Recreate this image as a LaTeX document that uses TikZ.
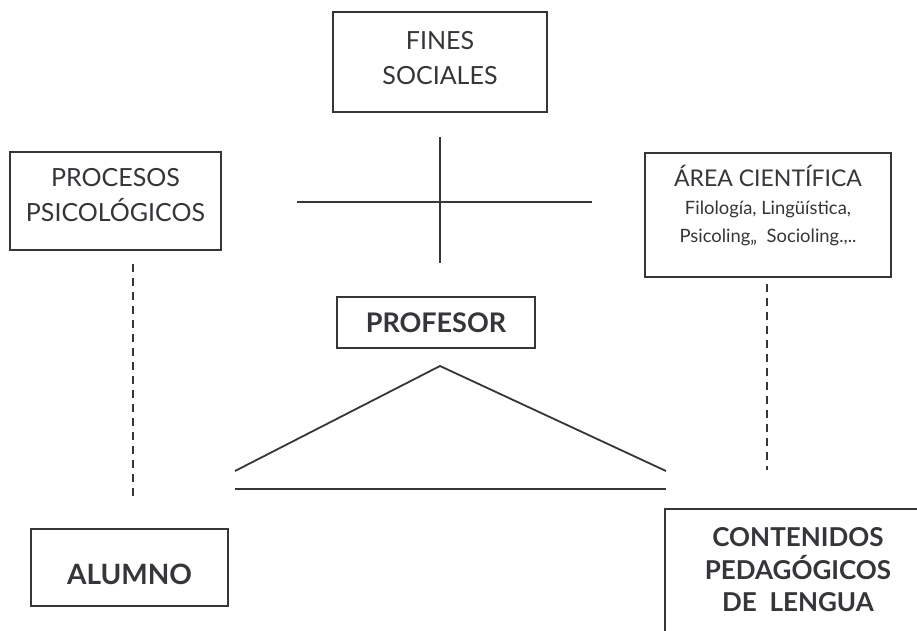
\documentclass[tikz,border=0pt]{standalone}
\usepackage{fontspec}
\setmainfont{Lato}
\usetikzlibrary{positioning}
\definecolor{ink}{HTML}{35353A}

\begin{document}
\begin{tikzpicture}[x=0.5pt, y=-0.5pt, color=ink, line width=0.9pt,
    box/.style = {draw, line width=1pt, inner sep=0pt},
    txt/.style = {align=center, inner sep=0pt},
    dots/.style = {line width=1.3pt, dash pattern=on 4pt off 3pt}]
            \useasboundingbox (0,0) rectangle (917,631);
            \clip (0,0) rectangle (917,631);

            % boxes
            \node [box, minimum width=107pt, minimum height=50pt] (fines) at (440,62) {};
            \node [box, minimum width=105.5pt, minimum height=49pt] (procesos) at (115.5,201) {};
            \node [box, minimum width=123pt, minimum height=62pt] (area) at (768,215) {};
            \node [box, minimum width=99pt, minimum height=25.5pt] (profesor) at (436,322.5) {};
            \node [box, minimum width=98.5pt, minimum height=38.5pt] (alumno) at (129.5,567.5) {};
            \node [box, minimum width=150pt, minimum height=80pt] (contenidos) at (815,589) {};

            % texts
            \node [txt, font=\fontsize{12.5}{17.5}\selectfont]
              (fines-t) at ([yshift=1.75pt]fines.center) {FINES\\SOCIALES};
            \node [txt, font=\fontsize{12.5}{17.5}\selectfont]
              (procesos-t) at ([yshift=3pt]procesos.center) {PROCESOS\\PSICOLÓGICOS};
            \node [txt, font=\fontsize{9.2}{14}\selectfont]
              (area-t) at ([yshift=4.5pt]area.center)
              {{\fontsize{11.5}{14}\selectfont ÁREA CIENTÍFICA}\\Filología, Lingüística,\\Psicoling,,~ Socioling.,..};
            \node [txt, font=\bfseries\fontsize{13.5}{16}\selectfont]
              (profesor-t) at (profesor.center) {PROFESOR};
            \node [txt, font=\bfseries\fontsize{14}{16}\selectfont]
              (alumno-t) at ([yshift=-3.5pt]alumno.center) {ALUMNO};
            \node [txt, font=\bfseries\fontsize{13}{16.25}\selectfont]
              (contenidos-t) at (798,570) {CONTENIDOS\\PEDAGÓGICOS\\DE~ LENGUA};

            % cross
            \coordinate (up) at (440,137);
            \coordinate (down) at (440,263);
            \coordinate (west) at (297,202);
            \coordinate (east) at (592,202);
            \draw (up) -- (down);
            \draw (west) -- (east);

            % roof and base
            \coordinate (top) at (440,366);
            \coordinate (bl) at (235,471);
            \coordinate (br) at (666,471);
            \coordinate (base l) at (235,489);
            \coordinate (base r) at (666,489);
            \draw (bl) -- (top) -- (br);
            \draw (base l) -- (base r);

            % dashed links
            \coordinate (d1) at (133,264);
            \coordinate (d2) at (133,496);
            \coordinate (d3) at (767,284);
            \coordinate (d4) at (767,470);
            \draw [dots] (d1) -- (d2);
            \draw [dots] (d3) -- (d4);
        \end{tikzpicture}
\end{document}
